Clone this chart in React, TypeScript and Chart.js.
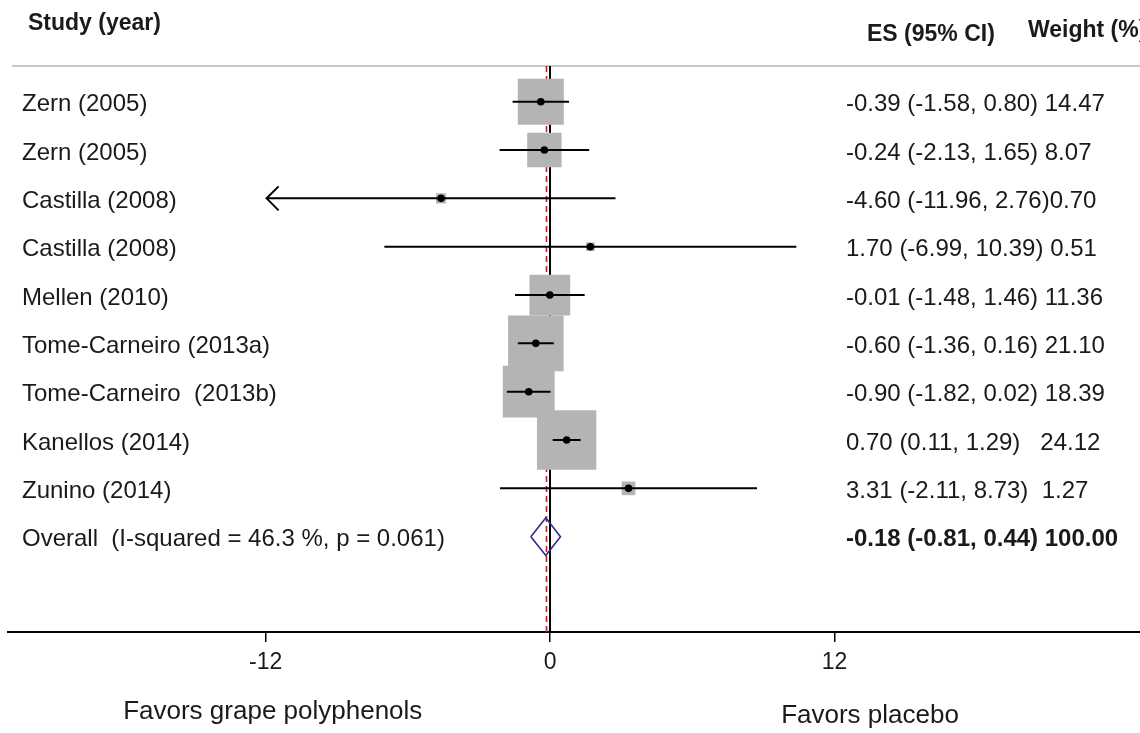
import { useEffect, useRef } from "react";
import { Chart, registerables } from "chart.js";

Chart.register(...registerables);

// ---- data ----
const studies = [
  "Zern (2005)",
  "Zern (2005)",
  "Castilla (2008)",
  "Castilla (2008)",
  "Mellen (2010)",
  "Tome-Carneiro (2013a)",
  "Tome-Carneiro  (2013b)",
  "Kanellos (2014)",
  "Zunino (2014)",
];
const effects = [-0.39, -0.24, -4.6, 1.7, -0.01, -0.6, -0.9, 0.7, 3.31];
const lowerCI = [-1.58, -2.13, -11.96, -6.99, -1.48, -1.36, -1.82, 0.11, -2.11];
const upperCI = [0.8, 1.65, 2.76, 10.39, 1.46, 0.16, 0.02, 1.29, 8.73];
const weights = [14.47, 8.07, 0.7, 0.51, 11.36, 21.1, 18.39, 24.12, 1.27];
const arrowLeft = [false, false, true, false, false, false, false, false, false];
const statLabels = [
  "-0.39 (-1.58, 0.80) 14.47",
  "-0.24 (-2.13, 1.65) 8.07",
  "-4.60 (-11.96, 2.76)0.70",
  "1.70 (-6.99, 10.39) 0.51",
  "-0.01 (-1.48, 1.46) 11.36",
  "-0.60 (-1.36, 0.16) 21.10",
  "-0.90 (-1.82, 0.02) 18.39",
  "0.70 (0.11, 1.29)   24.12",
  "3.31 (-2.11, 8.73)  1.27",
];
const overallLabel = "Overall  (I-squared = 46.3 %, p = 0.061)";
const overallEffect = -0.18;
const overallLower = -0.81;
const overallUpper = 0.44;
const overallStat = "-0.18 (-0.81, 0.44) 100.00";
const xTicks = [-12, 0, 12];
const leftCaption = "Favors grape polyphenols";
const rightCaption = "Favors placebo";

const FONT = "'Liberation Sans', Arial, Helvetica, sans-serif";
const BOX_SCALE = 12.09; // px side per sqrt(weight)

export default function App() {
  const ref = useRef<HTMLCanvasElement | null>(null);

  useEffect(() => {
    const canvas = ref.current;
    if (!canvas) return;
    const overallRow = studies.length;

    const decor = {
      id: "forestDecor",
      beforeDatasetsDraw(chart: any) {
        const { ctx, chartArea, scales } = chart;
        const x = scales.x;
        ctx.save();
        // header separator
        ctx.strokeStyle = "#c8c8c8";
        ctx.lineWidth = 2;
        ctx.beginPath();
        ctx.moveTo(12, chartArea.top);
        ctx.lineTo(chartArea.right, chartArea.top);
        ctx.stroke();
        // null line
        const x0 = Math.round(x.getPixelForValue(0));
        ctx.strokeStyle = "#000";
        ctx.lineWidth = 2;
        ctx.beginPath();
        ctx.moveTo(x0, chartArea.top);
        ctx.lineTo(x0, chartArea.bottom);
        ctx.stroke();
        // overall effect dashed line
        const xo = Math.round(x.getPixelForValue(overallEffect)) + 0.5;
        ctx.strokeStyle = "#b22430";
        ctx.lineWidth = 1.6;
        ctx.setLineDash([6, 4]);
        ctx.beginPath();
        ctx.moveTo(xo, chartArea.top);
        ctx.lineTo(xo, chartArea.bottom);
        ctx.stroke();
        ctx.restore();
      },
      afterDatasetsDraw(chart: any) {
        const { ctx, scales } = chart;
        ctx.save();
        ctx.strokeStyle = "#000";
        ctx.lineWidth = 2;
        arrowLeft.forEach((a, i) => {
          if (!a) return;
          const px = scales.x.getPixelForValue(lowerCI[i]);
          const py = scales.y.getPixelForValue(i);
          ctx.beginPath();
          ctx.moveTo(px + 12, py - 12);
          ctx.lineTo(px, py);
          ctx.lineTo(px + 12, py + 12);
          ctx.stroke();
        });
        ctx.restore();
      },
      afterDraw(chart: any) {
        const { ctx, scales } = chart;
        const y = scales.y;
        const x = scales.x;
        ctx.save();
        ctx.fillStyle = "#1a1a1a";
        ctx.textBaseline = "middle";
        ctx.textAlign = "left";
        ctx.font = `bold 23px ${FONT}`;
        ctx.fillText("Study (year)", 28, 24);
        ctx.fillText("ES (95% CI)", 867, 35);
        ctx.fillText("Weight (%)", 1028, 31);
        ctx.font = `24px ${FONT}`;
        studies.forEach((s, i) => {
          const py = y.getPixelForValue(i) + 3;
          ctx.fillText(s, 22, py);
          ctx.fillText(statLabels[i], 846, py);
        });
        const po = y.getPixelForValue(overallRow) + 3;
        ctx.fillText(overallLabel, 22, po);
        ctx.font = `bold 24px ${FONT}`;
        ctx.fillText(overallStat, 846, po);
        ctx.font = `26px ${FONT}`;
        ctx.textAlign = "center";
        ctx.fillText(leftCaption, x.getPixelForValue(-11.7), 712);
        ctx.fillText(rightCaption, x.getPixelForValue(13.5), 716);
        ctx.restore();
      },
    };

    const ciSets = studies.map((_, i) => ({
      type: "line" as const,
      data: [
        { x: lowerCI[i], y: i },
        { x: upperCI[i], y: i },
      ],
      borderColor: "#000",
      borderWidth: 2,
      pointRadius: 0,
      showLine: true,
      order: 1,
      clip: false as any,
    }));

    const chart = new Chart(canvas, {
      type: "scatter",
      data: {
        datasets: [
          {
            type: "scatter",
            data: effects.map((e, i) => ({ x: e, y: i })),
            pointStyle: "rect",
            pointRadius: weights.map((w) => (BOX_SCALE * Math.sqrt(w)) / Math.SQRT2),
            backgroundColor: "#b4b4b4",
            borderWidth: 0,
            order: 3,
            clip: false as any,
          },
          ...ciSets,
          {
            type: "scatter",
            data: effects.map((e, i) => ({ x: e, y: i })),
            pointStyle: "circle",
            pointRadius: 3.8,
            backgroundColor: "#000",
            borderWidth: 0,
            order: 0,
            clip: false as any,
          },
          {
            type: "line",
            data: [
              { x: overallLower, y: overallRow },
              { x: overallEffect, y: overallRow - 0.39 },
              { x: overallUpper, y: overallRow },
              { x: overallEffect, y: overallRow + 0.39 },
              { x: overallLower, y: overallRow },
            ],
            borderColor: "#2a2a90",
            borderWidth: 1.6,
            pointRadius: 0,
            showLine: true,
            tension: 0,
            fill: false,
            order: 0,
            clip: false as any,
          },
        ] as any,
      },
      options: {
        animation: false,
        responsive: false,
        devicePixelRatio: 1,
        events: [],
        layout: { autoPadding: false, padding: { top: 66, left: 8, right: 0, bottom: 0 } },
        plugins: { legend: { display: false }, tooltip: { enabled: false } },
        scales: {
          x: {
            type: "linear",
            position: "bottom",
            min: -22.87,
            max: 24.89,
            afterBuildTicks: (s: any) => {
              s.ticks = xTicks.map((v) => ({ value: v }));
            },
            afterFit: (s: any) => {
              s.height = 101;
              s.paddingLeft = 0;
              s.paddingRight = 0;
            },
            grid: {
              drawOnChartArea: false,
              drawTicks: true,
              tickLength: 10,
              color: "#000",
              lineWidth: 1.5,
            },
            border: { display: true, color: "#000", width: 2 },
            ticks: {
              font: { family: FONT, size: 23 },
              color: "#1a1a1a",
              padding: 7,
              maxRotation: 0,
              callback: (v: any) => String(v),
            },
          },
          y: {
            type: "linear",
            display: false,
            reverse: true,
            min: -0.7387,
            max: 10.972,
          },
        },
      } as any,
      plugins: [decor],
    });

    return () => chart.destroy();
  }, []);

  return (
    <div style={{ position: "absolute", left: 0, top: 0, width: 1140, height: 733, background: "#fff" }}>
      <canvas ref={ref} width={1140} height={733} style={{ display: "block", width: 1140, height: 733 }} />
    </div>
  );
}
